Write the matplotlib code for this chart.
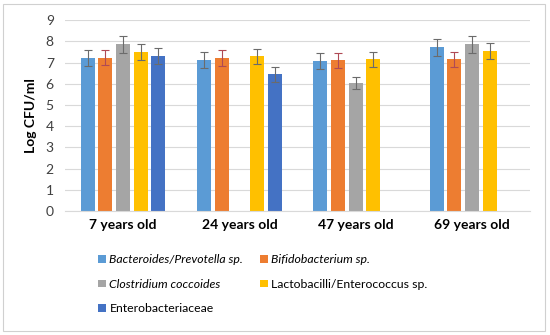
import matplotlib
matplotlib.use('Agg')
import matplotlib.pyplot as plt
from matplotlib.patches import Rectangle
import numpy as np

plt.rcParams['font.family'] = ['Lato', 'DejaVu Sans']

groups = ['7 years old', '24 years old', '47 years old', '69 years old']
series = ['Bacteroides/Prevotella sp.', 'Bifidobacterium sp.', 'Clostridium coccoides',
          'Lactobacilli/Enterococcus sp.', 'Enterobacteriaceae']
italic = [True, True, True, False, False]
colors = ['#5B9BD5', '#ED7D31', '#A5A5A5', '#FFC000', '#4472C4']

# mean log CFU/ml per group (nan = not shown)
bacteroides = [7.22, 7.10, 7.06, 7.71]
bifido      = [7.22, 7.22, 7.10, 7.16]
clostridium = [7.85, np.nan, 6.04, 7.85]
lacto       = [7.50, 7.30, 7.16, 7.54]
entero      = [7.30, 6.45, np.nan, np.nan]
values = [bacteroides, bifido, clostridium, lacto, entero]

# error bar half-widths
err_bacteroides = [0.37, 0.38, 0.37, 0.39]
err_bifido      = [0.35, 0.37, 0.35, 0.35]
err_clostridium = [0.38, 0.0, 0.30, 0.42]
err_lacto       = [0.38, 0.36, 0.35, 0.38]
err_entero      = [0.38, 0.35, 0.0, 0.0]
errors = [err_bacteroides, err_bifido, err_clostridium, err_lacto, err_entero]
err_colors = ['#6b6b6b', '#b04a55', '#6b6b6b', '#6b6b6b', '#6b6b6b']

fig = plt.figure(figsize=(5.5, 3.35), dpi=100)
fig.patches.append(Rectangle((0.006, 0.012), 0.985, 0.976, transform=fig.transFigure,
                             fill=False, edgecolor='#d0d0d0', lw=0.8))
ax = fig.add_axes([0.118, 0.370, 0.846, 0.570])

x = np.arange(len(groups))
step = 0.152
width = 0.12
handles = []
for i, (vals, errs) in enumerate(zip(values, errors)):
    pos = x + (i - 2) * step
    v = np.array(vals, dtype=float)
    e = np.array(errs, dtype=float)
    b = ax.bar(pos, v, width=width, color=colors[i], zorder=2)
    handles.append(b)
    ok = ~np.isnan(v)
    ax.errorbar(pos[ok], v[ok], yerr=e[ok], fmt='none', ecolor=err_colors[i],
                elinewidth=0.8, capsize=3, capthick=0.8, zorder=3)

ax.set_xlim(-0.5, len(groups) - 0.5)
ax.set_ylim(0, 9)
ax.set_yticks(range(0, 10))
ax.tick_params(axis='y', length=0, labelsize=10, labelcolor='#404040', pad=8)
ax.tick_params(axis='x', length=0, pad=6)
ax.set_xticks(x)
ax.set_xticklabels(groups, fontsize=10, fontweight='bold')
ax.yaxis.grid(True, color='#d9d9d9', lw=0.8, zorder=0)
ax.set_axisbelow(True)
for s in ['top', 'right', 'left']:
    ax.spines[s].set_visible(False)
ax.spines['bottom'].set_color('#d9d9d9')
ax.set_ylabel('Log CFU/ml', fontsize=10, fontweight='bold', labelpad=6)

order = [0, 2, 4, 1, 3]
leg = fig.legend([handles[k] for k in order], [series[k] for k in order], ncol=2,
                 loc='upper left', bbox_to_anchor=(0.17, 0.255), frameon=False,
                 fontsize=8.8, handlelength=0.6, handleheight=0.6, handletextpad=0.3,
                 columnspacing=1.4, labelspacing=1.1, borderaxespad=0)
for txt, k in zip(leg.get_texts(), order):
    if italic[k]:
        txt.set_style('italic')

plt.savefig('out.png', dpi=100, facecolor='white')
plt.close()
